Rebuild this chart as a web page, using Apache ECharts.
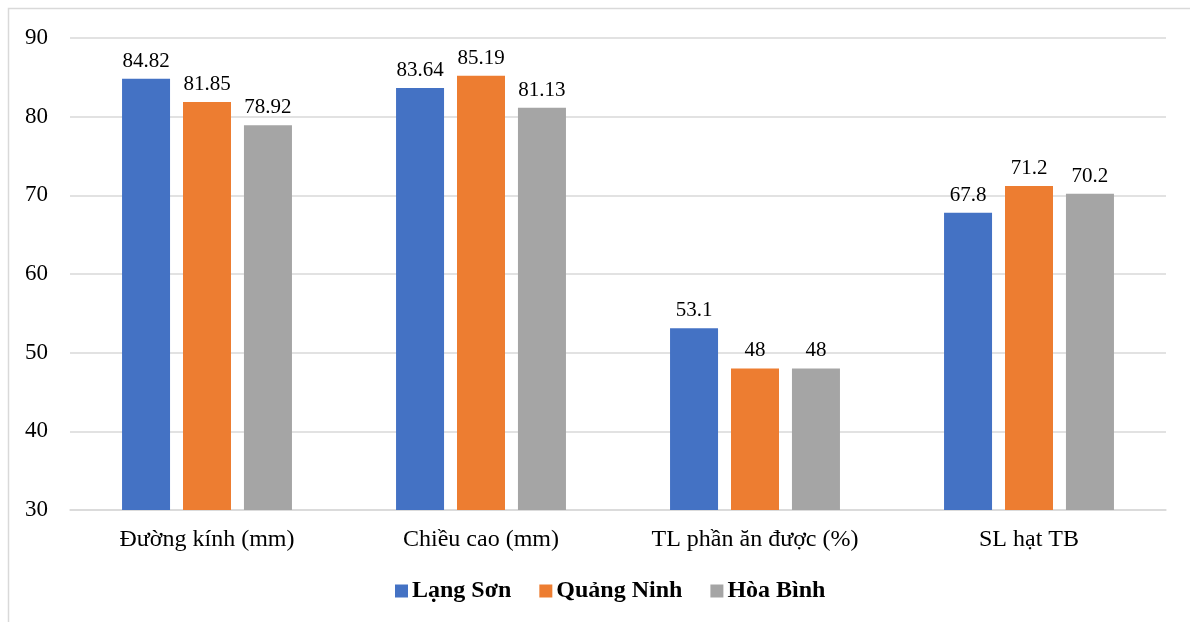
<!DOCTYPE html>
<html><head><meta charset="utf-8">
<script src="https://cdn.jsdelivr.net/npm/echarts@6/dist/echarts.min.js"></script>
<style>html,body{margin:0;padding:0;background:#fff}#c{width:1190px;height:622px}</style>
</head><body><div id="c"></div>
<script>
const categories = ['Đường kính (mm)', 'Chiều cao (mm)', 'TL phần ăn được (%)', 'SL hạt TB'];
const langSon = [84.82, 83.64, 53.1, 67.8];
const quangNinh = [81.85, 85.19, 48, 71.2];
const hoaBinh = [78.92, 81.13, 48, 70.2];
const seriesNames = ['Lạng Sơn', 'Quảng Ninh', 'Hòa Bình'];
const colors = ['#4472C4', '#ED7D31', '#A5A5A5'];
const font = '"Liberation Serif", "Times New Roman", serif';

const chart = echarts.init(document.getElementById('c'));
const mk = (name, data, color) => ({
  name, type: 'bar', data, barWidth: 48, barGap: '27%',
  itemStyle: { color },
  label: { show: true, position: 'top', distance: 7, color: '#000', fontFamily: font, fontSize: 21 }
});
chart.setOption({
  animation: false,
  graphic: [{ type: 'rect', shape: { x: 8.5, y: 8.5, width: 1200, height: 700 }, style: { fill: 'none', stroke: '#d9d9d9', lineWidth: 1.5 }, silent: true }],
  grid: { left: 70, right: 24, top: 38, bottom: 112 },
  legend: {
    bottom: 14, left: 390, itemWidth: 13, itemHeight: 13, itemGap: 28, icon: 'rect',
    textStyle: { fontFamily: font, fontSize: 24, fontWeight: 'bold', color: '#000', padding: [0, 0, 0, -1] },
    data: seriesNames
  },
  xAxis: {
    type: 'category', data: categories,
    axisLine: { lineStyle: { color: '#d9d9d9', width: 1.5 } },
    axisTick: { show: false },
    axisLabel: { color: '#000', fontFamily: font, fontSize: 24, margin: 18 }
  },
  yAxis: {
    type: 'value', min: 30, max: 90, interval: 10,
    axisLine: { show: false }, axisTick: { show: false },
    splitLine: { lineStyle: { color: '#d9d9d9', width: 1.5 } },
    axisLabel: { color: '#000', fontFamily: font, fontSize: 23, margin: 22 }
  },
  series: [mk(seriesNames[0], langSon, colors[0]), mk(seriesNames[1], quangNinh, colors[1]), mk(seriesNames[2], hoaBinh, colors[2])]
});
</script></body></html>
